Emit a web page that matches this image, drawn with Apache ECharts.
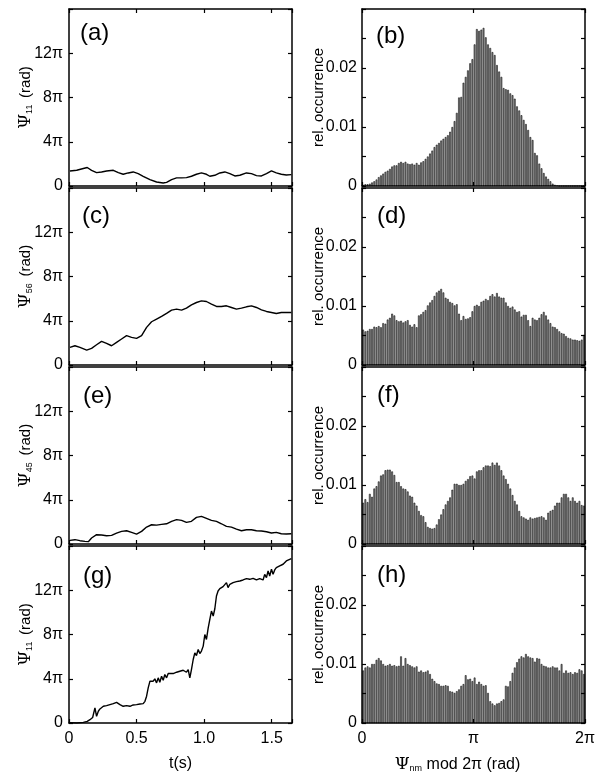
<!DOCTYPE html>
<html><head><meta charset="utf-8">
<script src="https://cdn.jsdelivr.net/npm/echarts@6/dist/echarts.min.js"></script>
<style>html,body{margin:0;padding:0;background:#fff}#c{width:599px;height:775px}</style>
</head><body><div id="c"></div>
<script>
// ---------- DATA ----------
// time series: [t (s), psi (units of pi)]
const psiA = [[0.007,1.36],[0.057,1.42],[0.106,1.58],[0.135,1.67],[0.167,1.42],[0.204,1.21],[0.241,1.27],[0.278,1.36],[0.328,1.42],[0.365,1.21],[0.401,1.06],[0.438,1.18],[0.475,1.27],[0.512,1.12],[0.549,0.88],[0.599,0.58],[0.648,0.36],[0.697,0.27],[0.722,0.33],[0.759,0.58],[0.796,0.73],[0.833,0.73],[0.869,0.76],[0.906,0.88],[0.943,1.06],[0.980,1.18],[1.017,1.06],[1.042,0.88],[1.079,0.97],[1.116,1.18],[1.153,1.27],[1.190,1.12],[1.227,0.91],[1.264,0.97],[1.313,1.18],[1.350,1.12],[1.387,0.94],[1.424,0.91],[1.461,1.12],[1.498,1.36],[1.534,1.18],[1.571,1.06],[1.608,1.00],[1.645,1.03]];
const psiC = [[0.007,1.59],[0.044,1.74],[0.081,1.59],[0.131,1.35],[0.167,1.50],[0.204,1.83],[0.241,2.14],[0.278,1.95],[0.315,1.74],[0.352,2.05],[0.389,2.35],[0.426,2.65],[0.463,2.50],[0.500,2.41],[0.537,2.65],[0.574,3.40],[0.611,3.91],[0.648,4.15],[0.685,4.39],[0.722,4.66],[0.759,4.96],[0.796,5.05],[0.833,4.96],[0.869,5.14],[0.906,5.44],[0.943,5.65],[0.980,5.80],[1.017,5.74],[1.054,5.50],[1.091,5.29],[1.128,5.29],[1.165,5.35],[1.202,5.20],[1.239,5.05],[1.276,5.14],[1.313,5.26],[1.350,5.35],[1.387,5.20],[1.424,4.99],[1.461,4.84],[1.498,4.75],[1.534,4.66],[1.571,4.75],[1.608,4.75],[1.645,4.75]];
const psiE = [[0.007,0.33],[0.044,0.39],[0.081,0.30],[0.118,0.24],[0.143,0.21],[0.167,0.54],[0.204,0.84],[0.241,0.81],[0.278,0.75],[0.315,0.78],[0.352,0.99],[0.389,1.14],[0.426,1.20],[0.463,1.05],[0.500,0.90],[0.537,1.14],[0.574,1.53],[0.611,1.74],[0.648,1.71],[0.685,1.77],[0.722,1.83],[0.759,2.05],[0.796,2.20],[0.833,2.14],[0.869,1.95],[0.906,2.05],[0.943,2.41],[0.980,2.50],[1.017,2.32],[1.054,2.14],[1.091,2.05],[1.128,1.83],[1.165,1.59],[1.202,1.53],[1.239,1.35],[1.276,1.20],[1.313,1.29],[1.350,1.29],[1.387,1.20],[1.424,1.17],[1.461,1.11],[1.498,0.99],[1.534,1.05],[1.571,0.93],[1.608,0.90],[1.645,0.93]];
const psiG = [[0.007,0.03],[0.057,0.00],[0.106,0.06],[0.135,0.15],[0.155,0.30],[0.175,0.50],[0.192,1.36],[0.204,0.60],[0.217,1.06],[0.229,1.27],[0.254,1.51],[0.278,1.57],[0.303,1.66],[0.328,1.75],[0.352,1.87],[0.377,1.66],[0.401,1.51],[0.426,1.57],[0.451,1.51],[0.475,1.63],[0.500,1.66],[0.525,1.72],[0.537,1.81],[0.549,1.75],[0.562,1.96],[0.574,2.42],[0.586,3.17],[0.599,3.78],[0.611,3.93],[0.623,3.78],[0.635,3.99],[0.648,3.63],[0.660,4.08],[0.672,3.69],[0.685,4.23],[0.697,3.87],[0.709,4.38],[0.722,4.08],[0.734,4.47],[0.746,4.29],[0.771,4.47],[0.796,4.59],[0.820,4.68],[0.845,4.77],[0.869,4.59],[0.882,4.83],[0.894,4.08],[0.906,4.83],[0.919,5.74],[0.931,6.34],[0.943,6.10],[0.956,6.65],[0.968,6.28],[0.980,6.50],[0.993,6.95],[1.005,8.00],[1.017,7.55],[1.030,8.60],[1.042,9.37],[1.054,10.12],[1.067,9.67],[1.079,10.33],[1.091,11.48],[1.103,11.93],[1.116,12.14],[1.140,12.33],[1.165,12.69],[1.177,12.24],[1.190,12.54],[1.214,12.69],[1.239,12.78],[1.264,12.84],[1.288,12.93],[1.313,13.05],[1.337,12.99],[1.362,13.08],[1.387,12.93],[1.411,13.05],[1.436,12.93],[1.448,13.44],[1.461,13.14],[1.473,13.75],[1.485,13.29],[1.498,13.90],[1.510,13.44],[1.522,13.84],[1.534,14.05],[1.559,14.20],[1.584,14.35],[1.608,14.65],[1.633,14.80],[1.645,14.86]];

// histograms: relative occurrence in 100 bins over [0, 2pi)
const histB = [0.0002,0.0003,0.0003,0.0004,0.0006,0.0008,0.0011,0.0015,0.0018,0.0021,
0.0024,0.0026,0.0029,0.0033,0.0035,0.0035,0.0039,0.0041,0.0039,0.0041,
0.0038,0.0037,0.0038,0.0036,0.0039,0.0036,0.0040,0.0042,0.0046,0.0050,
0.0055,0.0060,0.0066,0.0070,0.0073,0.0077,0.0080,0.0083,0.0086,0.0092,
0.0100,0.0110,0.0124,0.0150,0.0151,0.0175,0.0185,0.0196,0.0208,0.0215,
0.0240,0.0266,0.0263,0.0265,0.0268,0.0252,0.0240,0.0234,0.0227,0.0222,
0.0205,0.0194,0.0185,0.0166,0.0164,0.0163,0.0157,0.0154,0.0148,0.0135,
0.0128,0.0120,0.0112,0.0105,0.0095,0.0083,0.0078,0.0056,0.0052,0.0038,
0.0030,0.0022,0.0016,0.0012,0.0008,0.0004,0.0002,0.0001,0,0,
0,0,0,0,0,0,0,0,0,0];
const histD = [0.0060,0.0057,0.0058,0.0061,0.0061,0.0065,0.0064,0.0066,0.0064,0.0071,
0.0070,0.0077,0.0080,0.0087,0.0084,0.0076,0.0074,0.0075,0.0072,0.0074,
0.0076,0.0068,0.0065,0.0069,0.0064,0.0084,0.0086,0.0090,0.0093,0.0101,
0.0106,0.0110,0.0117,0.0123,0.0126,0.0129,0.0123,0.0114,0.0112,0.0107,
0.0105,0.0101,0.0103,0.0087,0.0076,0.0083,0.0078,0.0079,0.0081,0.0091,
0.0100,0.0102,0.0100,0.0107,0.0109,0.0112,0.0110,0.0117,0.0120,0.0116,
0.0122,0.0116,0.0114,0.0114,0.0106,0.0100,0.0097,0.0099,0.0094,0.0090,
0.0091,0.0082,0.0085,0.0085,0.0076,0.0066,0.0080,0.0077,0.0076,0.0080,
0.0086,0.0090,0.0084,0.0077,0.0071,0.0065,0.0064,0.0061,0.0057,0.0054,
0.0053,0.0049,0.0046,0.0045,0.0043,0.0043,0.0042,0.0041,0.0043,0.0051];
const histF = [0.0070,0.0076,0.0071,0.0085,0.0080,0.0094,0.0098,0.0106,0.0116,0.0118,
0.0125,0.0126,0.0126,0.0123,0.0117,0.0105,0.0105,0.0098,0.0094,0.0093,
0.0089,0.0082,0.0080,0.0070,0.0065,0.0056,0.0049,0.0047,0.0037,0.0029,
0.0027,0.0026,0.0027,0.0033,0.0042,0.0050,0.0059,0.0067,0.0073,0.0079,
0.0092,0.0102,0.0102,0.0100,0.0100,0.0102,0.0107,0.0110,0.0115,0.0116,
0.0111,0.0123,0.0125,0.0125,0.0130,0.0133,0.0133,0.0132,0.0138,0.0134,
0.0138,0.0133,0.0125,0.0116,0.0110,0.0102,0.0094,0.0083,0.0073,0.0067,
0.0056,0.0047,0.0045,0.0043,0.0041,0.0045,0.0043,0.0044,0.0045,0.0046,
0.0047,0.0045,0.0041,0.0053,0.0056,0.0058,0.0065,0.0070,0.0070,0.0079,
0.0085,0.0085,0.0079,0.0073,0.0079,0.0073,0.0070,0.0073,0.0066,0.0065];
const histH = [0.0089,0.0094,0.0096,0.0094,0.0100,0.0100,0.0107,0.0110,0.0106,0.0100,
0.0097,0.0098,0.0100,0.0097,0.0098,0.0096,0.0097,0.0113,0.0097,0.0110,
0.0100,0.0098,0.0096,0.0094,0.0096,0.0087,0.0089,0.0086,0.0087,0.0089,
0.0083,0.0075,0.0071,0.0067,0.0066,0.0063,0.0063,0.0064,0.0063,0.0054,
0.0053,0.0051,0.0054,0.0057,0.0063,0.0066,0.0081,0.0074,0.0075,0.0071,
0.0077,0.0066,0.0070,0.0066,0.0063,0.0064,0.0051,0.0037,0.0033,0.0030,
0.0033,0.0034,0.0037,0.0040,0.0063,0.0062,0.0071,0.0085,0.0094,0.0103,
0.0109,0.0113,0.0111,0.0117,0.0113,0.0111,0.0110,0.0104,0.0110,0.0109,
0.0100,0.0097,0.0096,0.0094,0.0094,0.0096,0.0094,0.0094,0.0089,0.0100,
0.0085,0.0089,0.0085,0.0086,0.0083,0.0086,0.0085,0.0091,0.0089,0.0083];
const binNames = histB.map((_, i) => 'bin' + (i + 1));

// tick labels
const tTickText = {'0':'0','0.5':'0.5','1':'1.0','1.5':'1.5'};
const psiTickText = {'0':'0','4':'4π','8':'8π','12':'12π'};
const occTickText = {'0':'0','10':'0.01','20':'0.02'};
const phaseTickText = {'0':'0','1':'π','2':'2π'};
const panelLetters = ['(a)','(b)','(c)','(d)','(e)','(f)','(g)','(h)'];
const psiSubs = ['11','56','45','11'];
const leftSeries = [psiA, psiC, psiE, psiG];
const rightSeries = [histB, histD, histF, histH];

// ---------- LAYOUT ----------
const font = '"Liberation Sans", Arial, Helvetica, sans-serif';
const rowTops = [9, 188, 367, 546];
const panelH = 177, panelW = 223, leftX = 69, rightX = 362;
const labelPos = [[80,33],[376,36],[82,216],[377,216],[83,396],[377,395],[83,576],[377,575]];

const grids = [], xAxes = [], yAxes = [], series = [], graphics = [];
function ax(extra) {
  return Object.assign({
    z: 5,
    nameMoveOverlap: false,
    axisLine: {show: true, onZero: false, lineStyle: {color: '#000', width: 1.5}},
    axisTick: {show: true, inside: true, length: 4, lineStyle: {color: '#000', width: 1.2}},
    splitLine: {show: false},
    axisLabel: {show: false}
  }, extra);
}
const lbl = (fmt, margin) => ({show: true, formatter: fmt, fontSize: 16, color: '#000', fontFamily: font, margin: margin});

for (let r = 0; r < 4; r++) {
  const last = r === 3;
  // ----- left panel: time series -----
  let g = grids.length;
  grids.push({left: leftX, top: rowTops[r], width: panelW, height: panelH});
  let xi = xAxes.length;
  xAxes.push(ax({type: 'value', gridIndex: g, position: 'bottom', min: 0, max: 1.65, interval: 0.5,
    axisLabel: last ? lbl(v => tTickText[String(v)] ?? '', 8) : {show: false},
    name: last ? 't(s)' : '', nameLocation: 'middle', nameGap: 33,
    nameTextStyle: {fontSize: 16, color: '#000', fontFamily: font}}));
  xAxes.push(ax({type: 'value', gridIndex: g, position: 'top', min: 0, max: 1.65, interval: 0.5}));
  let yi = yAxes.length;
  yAxes.push(ax({type: 'value', gridIndex: g, position: 'left', min: 0, max: 16, interval: 4,
    axisLabel: lbl(v => psiTickText[String(v)] ?? '', 6),
    name: '{p|Ψ}{s|' + psiSubs[r] + '}  {r|(rad)}', nameLocation: 'middle', nameRotate: 90, nameGap: 35,
    nameTextStyle: {color: '#000', fontFamily: font, rich: {
      p: {fontSize: 17, fontFamily: '"DejaVu Serif", serif', color: '#000'},
      s: {fontSize: 9, verticalAlign: 'bottom', color: '#000', fontFamily: font},
      r: {fontSize: 15, color: '#000', fontFamily: font}}}}));
  yAxes.push(ax({type: 'value', gridIndex: g, position: 'right', min: 0, max: 16, interval: 4}));
  series.push({type: 'line', xAxisIndex: xi, yAxisIndex: yi, data: leftSeries[r], showSymbol: false,
    symbol: 'none', lineStyle: {color: '#000', width: 1.4}, z: 3, animation: false});

  // ----- right panel: histogram -----
  g = grids.length;
  grids.push({left: rightX, top: rowTops[r], width: panelW, height: panelH});
  const ci = xAxes.length;
  xAxes.push({type: 'category', gridIndex: g, data: binNames, boundaryGap: true,
    axisLine: {show: false}, axisTick: {show: false}, axisLabel: {show: false}, splitLine: {show: false}});
  xAxes.push(ax({type: 'value', gridIndex: g, position: 'bottom', min: 0, max: 2, interval: 1,
    axisLabel: last ? lbl(v => phaseTickText[String(v)] ?? '', 8) : {show: false},
    name: last ? '{p|Ψ}{s|nm}{r| mod 2π (rad)}' : '', nameLocation: 'middle', nameGap: 33,
    nameTextStyle: {color: '#000', fontFamily: font, padding: [0, 32, 0, 0], rich: {
      p: {fontSize: 17, fontFamily: '"DejaVu Serif", serif', color: '#000'},
      s: {fontSize: 9, verticalAlign: 'bottom', color: '#000', fontFamily: font},
      r: {fontSize: 16, color: '#000', fontFamily: font}}}}));
  xAxes.push(ax({type: 'value', gridIndex: g, position: 'top', min: 0, max: 2, interval: 1}));
  yi = yAxes.length;
  yAxes.push(ax({type: 'value', gridIndex: g, position: 'left', min: 0, max: 0.03, interval: 0.005,
    axisLabel: lbl(v => occTickText[String(Math.round(v * 1000))] ?? '', 5),
    name: 'rel. occurrence', nameLocation: 'middle', nameRotate: 90, nameGap: 36,
    nameTextStyle: {fontSize: 15, color: '#000', fontFamily: font}}));
  yAxes.push(ax({type: 'value', gridIndex: g, position: 'right', min: 0, max: 0.03, interval: 0.005}));
  series.push({type: 'bar', xAxisIndex: ci, yAxisIndex: yi, data: rightSeries[r], barCategoryGap: '22%',
    itemStyle: {color: '#8a8a8a', borderColor: '#111', borderWidth: 0.6}, z: 2, animation: false});
}
panelLetters.forEach((t, i) => {
  graphics.push({type: 'text', x: labelPos[i][0], y: labelPos[i][1], z: 10,
    style: {text: t, fontSize: 24, fontFamily: font, fill: '#000', verticalAlign: 'middle'}});
});

const chart = echarts.init(document.getElementById('c'), null, {renderer: 'canvas'});
chart.setOption({
  animation: false,
  backgroundColor: '#fff',
  textStyle: {fontFamily: font},
  grid: grids, xAxis: xAxes, yAxis: yAxes, series: series, graphic: graphics
});
</script></body></html>
